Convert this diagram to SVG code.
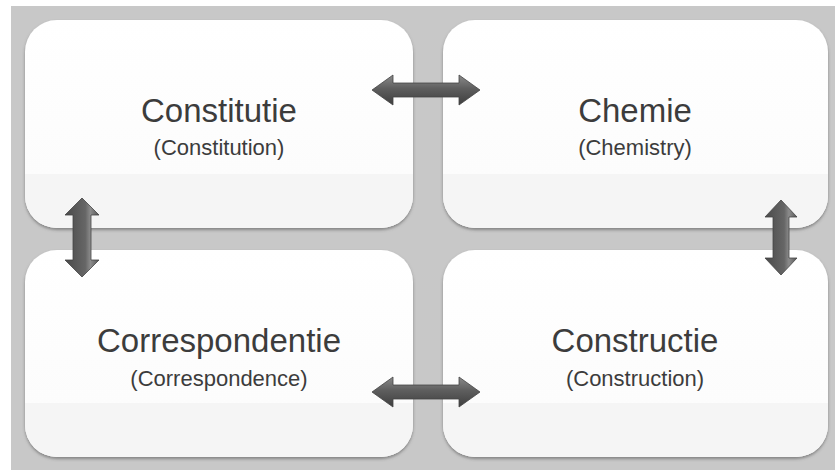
<svg xmlns="http://www.w3.org/2000/svg" width="835" height="470" viewBox="0 0 835 470">
<defs>
<style>
.box{fill:url(#boxg);}
.band{fill:#f5f5f5;}
.t1{font-family:"Liberation Sans",Arial,sans-serif;font-size:33px;fill:#3c3c3c;text-anchor:middle;}
.t2{font-family:"Liberation Sans",Arial,sans-serif;font-size:22px;fill:#3c3c3c;text-anchor:middle;}
.ah{fill:url(#hg);stroke:#444;stroke-width:0.8;}
.av{fill:url(#vg);stroke:#444;stroke-width:0.8;}
</style>
<linearGradient id="boxg" x1="0" y1="0" x2="0" y2="1">
<stop offset="0" stop-color="#ffffff"/>
<stop offset="1" stop-color="#fbfbfb"/>
</linearGradient>
<linearGradient id="hg" x1="0" y1="0" x2="0" y2="1">
<stop offset="0" stop-color="#8a8a8a"/>
<stop offset="0.45" stop-color="#5e5e5e"/>
<stop offset="1" stop-color="#3e3e3e"/>
</linearGradient>
<linearGradient id="vg" x1="0" y1="0" x2="1" y2="0">
<stop offset="0" stop-color="#4a4a4a"/>
<stop offset="0.6" stop-color="#666"/>
<stop offset="0.75" stop-color="#8c8c8c"/>
<stop offset="1" stop-color="#555"/>
</linearGradient>
<filter id="sh" x="-5%" y="-5%" width="110%" height="115%">
<feDropShadow dx="0" dy="2" stdDeviation="1.5" flood-color="#555" flood-opacity="0.6"/>
</filter>
<clipPath id="c1"><rect x="25" y="20" width="388" height="208" rx="32"/></clipPath>
<clipPath id="c2"><rect x="443" y="20" width="385" height="208" rx="32"/></clipPath>
<clipPath id="c3"><rect x="25" y="250" width="388" height="207" rx="32"/></clipPath>
<clipPath id="c4"><rect x="443" y="250" width="385" height="207" rx="32"/></clipPath>
</defs>
<rect x="0" y="0" width="835" height="470" fill="#ffffff"/>
<rect x="11" y="6" width="824" height="464" fill="#c8c8c8"/>

<g id="constitutie">
<rect class="box" x="25" y="20" width="388" height="208" rx="32" filter="url(#sh)"/>
<rect class="band" x="25" y="174" width="388" height="60" clip-path="url(#c1)"/>
<text class="t1" x="219" y="122">Constitutie</text>
<text class="t2" x="219" y="155">(Constitution)</text>
</g>
<g id="chemie">
<rect class="box" x="443" y="20" width="385" height="208" rx="32" filter="url(#sh)"/>
<rect class="band" x="443" y="174" width="385" height="60" clip-path="url(#c2)"/>
<text class="t1" x="635" y="122">Chemie</text>
<text class="t2" x="635" y="155">(Chemistry)</text>
</g>
<g id="correspondentie">
<rect class="box" x="25" y="250" width="388" height="207" rx="32" filter="url(#sh)"/>
<rect class="band" x="25" y="403" width="388" height="60" clip-path="url(#c3)"/>
<text class="t1" x="219" y="352">Correspondentie</text>
<text class="t2" x="219" y="386">(Correspondence)</text>
</g>
<g id="constructie">
<rect class="box" x="443" y="250" width="385" height="207" rx="32" filter="url(#sh)"/>
<rect class="band" x="443" y="403" width="385" height="60" clip-path="url(#c4)"/>
<text class="t1" x="635" y="352">Constructie</text>
<text class="t2" x="635" y="386">(Construction)</text>
</g>

<g id="connectors">
<path class="ah" d="M372,90 L393,75 L393,83 L459,83 L459,75 L480,90 L459,105 L459,97 L393,97 L393,105 Z"/>
<path class="ah" d="M372,392 L393,377 L393,385 L459,385 L459,377 L480,392 L459,407 L459,399 L393,399 L393,407 Z"/>
<path class="av" d="M82,198 L99,215 L91,215 L91,260 L99,260 L82,277 L65,260 L73,260 L73,215 L65,215 Z"/>
<path class="av" d="M781,200 L797,217 L789,217 L789,258 L797,258 L781,275 L765,258 L773,258 L773,217 L765,217 Z"/>
</g>
</svg>
